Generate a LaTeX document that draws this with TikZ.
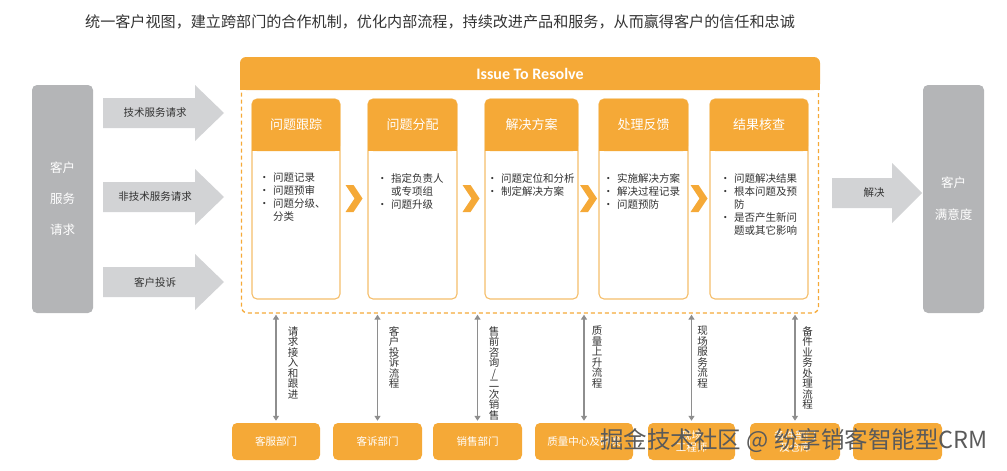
\documentclass[tikz,border=0pt]{standalone}
\usepackage{fontspec}
\setmainfont{Noto Sans CJK SC}
\newfontfamily\titlefont{Carlito}
\usepackage{xcolor}
\usetikzlibrary{arrows.meta, positioning}
\definecolor{orgfill}{HTML}{F5A937}
\definecolor{orgline}{HTML}{F5BE6A}
\definecolor{boxgray}{HTML}{B4B5B7}
\definecolor{arrgray}{HTML}{D2D3D5}
\definecolor{lnkgray}{HTML}{8E8E8E}
\definecolor{txtdark}{HTML}{333333}
\definecolor{wmgray}{HTML}{5A5A5A}
\newcommand{\bul}{\makebox[14pt][l]{\textbullet}}
\newcommand{\hang}{\hspace*{14pt}}

\begin{document}
\begin{tikzpicture}[x=1pt, y=-1pt,
  sidebox/.style={fill=boxgray, rounded corners=5pt, text=white, align=center,
                  inner sep=0pt, minimum width=61pt, minimum height=228pt},
  arrlabel/.style={text=txtdark, font=\fontsize{10.5}{12}\selectfont},
  frame/.style={draw=orgfill, dash pattern=on 4pt off 3pt, line width=1.3pt,
                rounded corners=6pt, minimum width=577pt, minimum height=233pt},
  cardbody/.style={draw=orgline, line width=1.1pt, fill=white, rounded corners=5pt,
                   minimum height=200pt, inner sep=0pt},
  cardhead/.style={minimum height=52pt, inner sep=0pt, text=white,
                   font=\fontsize{13}{15}\selectfont},
  bullets/.style={anchor=north west, inner sep=0pt, align=left, text=txtdark,
                  font=\fontsize{10.5}{13}\selectfont},
  dept/.style={fill=orgfill, rounded corners=5pt, minimum height=37pt, inner sep=0pt,
               text=white, align=center, font=\fontsize{10.5}{12}\selectfont},
  link/.style={{Triangle[width=6pt,length=5pt]}-{Triangle[width=6pt,length=5pt]},
               line width=1.3pt, lnkgray, shorten <=2pt, shorten >=1pt},
  vlabel/.style={anchor=north, inner sep=0pt, align=center, text=txtdark,
                 font=\fontsize{10.5}{10.5}\selectfont}
]
\useasboundingbox (0,0) rectangle (1007,471);

% heading line
\node[text=txtdark, font=\fontsize{15.1}{17}\selectfont] (motto) at (440,22)
  {统一客户视图，建立跨部门的合作机制，优化内部流程，持续改进产品和服务，从而赢得客户的信任和忠诚};

% customers on both sides
\node[sidebox, font=\fontsize{12.5}{31}\selectfont] (cust) at (62.5,199) {客户\\服务\\请求};
\node[sidebox, font=\fontsize{12.5}{32}\selectfont] (happy) at (953.5,199) {客户\\满意度};

% incoming requests
\foreach \i/\cy/\txt in {1/113/技术服务请求, 2/197/非技术服务请求, 3/282/客户投诉} {
  \fill[arrgray] (103,\cy-15) -- (195,\cy-15) -- (195,\cy-28) -- (224,\cy)
    -- (195,\cy+28) -- (195,\cy+15) -- (103,\cy+15) -- cycle;
  \node[arrlabel] (req\i) at (155,\cy) {\txt};
}
\fill[arrgray] (832,178) -- (892,178) -- (892,163) -- (922,193)
  -- (892,223) -- (892,208) -- (832,208) -- cycle;
\node[arrlabel] (solve) at (874,193) {解决};

% issue to resolve frame
\node[frame] (frame) at (530,196.5) {};
\fill[orgfill, rounded corners=6pt] (240,57) rectangle (820,90);
\fill[orgfill] (240,74) rectangle (820,90);
\node[text=white, font=\titlefont\bfseries\fontsize{16}{18}\selectfont] (issue) at (530,73.5)
  {Issue To Resolve};

% process cards
\foreach \i/\xa/\xb/\ttl in {1/252/340/问题跟踪, 2/368/457/问题分配, 3/485/578/解决方案,
                             4/599/688/处理反馈, 5/710/808/结果核查} {
  \node[cardbody, minimum width={\xb-\xa}] (card\i) at ({(\xa+\xb)/2},199) {};
  \fill[orgfill, rounded corners=5pt] (\xa,99) rectangle (\xb,151);
  \fill[orgfill] (\xa,125) rectangle (\xb,151);
  \node[cardhead, minimum width={\xb-\xa}] (head\i) at ({(\xa+\xb)/2},125) {\ttl};
}
\node[bullets] (list1) at (259,173) {\bul 问题记录\\\bul 问题预审\\\bul 问题分级、\\\hang 分类};
\node[bullets] (list2) at (377,173) {\bul 指定负责人\\\hang 或专项组\\\bul 问题升级};
\node[bullets] (list3) at (487,173) {\bul 问题定位和分析\\\bul 制定解决方案};
\node[bullets] (list4) at (603,173) {\bul 实施解决方案\\\bul 解决过程记录\\\bul 问题预防};
\node[bullets] (list5) at (720,173)
  {\bul 问题解决结果\\\bul 根本问题及预\\\hang 防\\\bul 是否产生新问\\\hang 题或其它影响};

% chevrons between cards
\foreach \cx in {354,471,588.5,699}
  \fill[orgfill] (\cx-8.5,185) -- (\cx-0.5,185) -- (\cx+8.5,198.5) -- (\cx-0.5,212)
    -- (\cx-8.5,212) -- (\cx+0.5,198.5) -- cycle;

% departments
\foreach \i/\cx/\bw/\txt in {1/276/88/客服部门, 2/377.5/89/客诉部门, 3/477.5/89/销售部门,
                             4/584/98/质量中心及研发, 5/691.5/87/{现场\\工程师},
                             6/795/90/{备件部门\\及仓库}, 7/897.5/89/{}}
  \node[dept, minimum width=\bw] (dept\i) at (\cx,441.5) {\txt};

\foreach \i/\lx/\txt in {1/293/{请\\求\\接\\入\\和\\跟\\进}, 2/394/{客\\户\\投\\诉\\流\\程},
                         3/494/{售\\前\\咨\\询\\/\\二\\次\\销\\售}, 4/597/{质\\量\\上\\升\\流\\程},
                         5/702.5/{现\\场\\服\\务\\流\\程}, 6/807.5/{备\\件\\业\\务\\处\\理\\流\\程}} {
  \draw[link] (dept\i.north) -- (dept\i.north |- frame.south);
  \node[vlabel] (lab\i) at (\lx,326) {\txt};
}

% watermark
\node[text=wmgray, font=\fontsize{23.5}{25}\selectfont] (mark) at (794,441)
  {掘金技术社区 @ 纷享销客智能型CRM};
\end{tikzpicture}
\end{document}
